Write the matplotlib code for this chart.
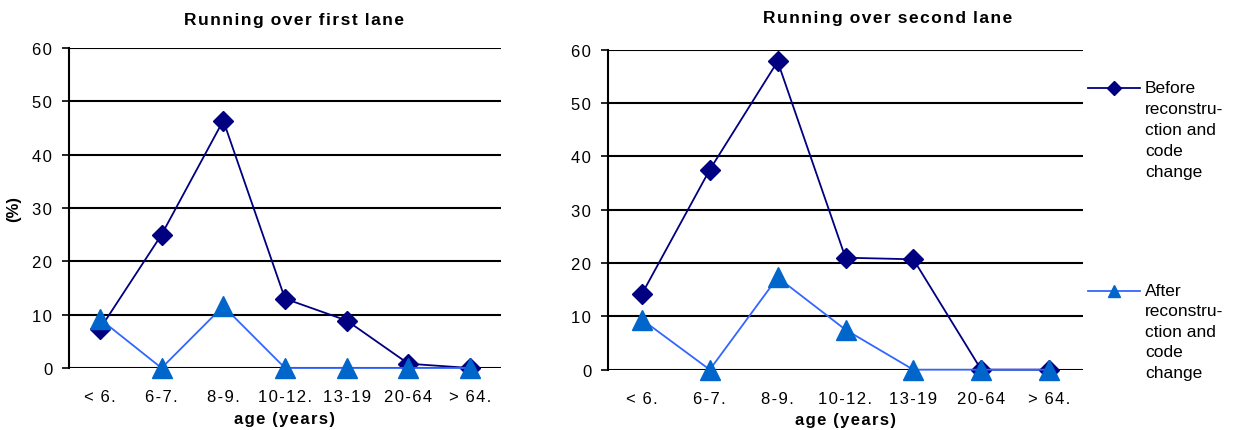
import matplotlib
matplotlib.use("Agg")
import matplotlib.pyplot as plt
from matplotlib.lines import Line2D

plt.rcParams['font.family'] = ['Liberation Sans', 'DejaVu Sans']

ages = ["< 6.", "6-7.", "8-9.", "10-12.", "13-19", "20-64", "> 64."]

# first lane, %
lane1_before = [7.3, 25.0, 46.4, 13.0, 8.9, 0.8, 0.0]
lane1_after = [9.2, 0.0, 11.6, 0.0, 0.0, 0.0, 0.0]

# second lane, %
lane2_before = [14.2, 37.5, 57.8, 21.0, 20.7, 0.0, 0.0]
lane2_after = [9.4, 0.0, 17.3, 7.5, 0.0, 0.0, 0.0]

yticks = [0, 10, 20, 30, 40, 50, 60]

legend_before = "Before\nreconstru-\nction and\ncode\nchange"
legend_after = "After\nreconstru-\nction and\ncode\nchange"

col_before = '#000080'
col_after_line = '#3366FF'
col_after_mark = '#0066CC'

W, H = 1249, 431
fig = plt.figure(figsize=(W/100, H/100), dpi=100)
ax1 = fig.add_axes([69/W, (H-369)/H, 432/W, 320/H])
ax2 = fig.add_axes([608/W, (H-370.7)/H, 475/W, 320/H])


def spaced(s):
    # loosen the letters a bit, Excel style
    return "\u200a".join(s).replace("\u200a \u200a", "\u2009\u2009")


def draw(ax, before, after):
    x = list(range(len(ages)))
    ax.plot(x, before, color=col_before, lw=1.3, marker='D', ms=10,
            mfc=col_before, mec=col_before, zorder=3, clip_on=False)
    ax.plot(x, after, color=col_after_line, lw=1.3, marker='^', ms=14,
            mfc=col_after_mark, mec=col_after_mark, zorder=4, clip_on=False)
    ax.set_xlim(-0.5, len(ages) - 0.5)
    ax.set_ylim(0, 60)
    ax.set_yticks(yticks)
    ax.set_yticklabels([spaced(str(t)) for t in yticks])
    ax.set_xticks(x)
    ax.set_xticklabels([spaced(a) for a in ages], fontsize=12)
    ax.tick_params(axis='y', labelsize=12, length=5, width=1.2, color='black', pad=7)
    ax.tick_params(axis='x', length=0, pad=15)
    ax.yaxis.grid(True, color='black', lw=1.5)
    ax.set_axisbelow(True)
    for s in ['top', 'right', 'bottom']:
        ax.spines[s].set_visible(False)
    ax.spines['left'].set_linewidth(1.5)
    ax.set_xlabel(spaced("age (years)"), fontsize=12, fontweight='bold', labelpad=5)


draw(ax1, lane1_before, lane1_after)
draw(ax2, lane2_before, lane2_after)
ax1.set_ylabel("(%)", fontsize=12, fontweight='bold', labelpad=8)

fig.text(294/W, (H-21)/H, spaced("Running over first lane"), fontsize=12.5,
         fontweight='bold', ha='center', va='center')
fig.text(888/W, (H-19)/H, spaced("Running over second lane"), fontsize=12.5,
         fontweight='bold', ha='center', va='center')

# legend drawn on the figure, to the right of the second panel
fig.add_artist(Line2D([1088/W, 1140/W], [(H-88.7)/H]*2, color=col_before, lw=1.3,
                      transform=fig.transFigure))
fig.add_artist(Line2D([1114/W], [(H-88.7)/H], color=col_before, marker='D', ms=7,
                      transform=fig.transFigure))
fig.add_artist(Line2D([1088/W, 1140/W], [(H-291.7)/H]*2, color=col_after_line, lw=1.3,
                      transform=fig.transFigure))
fig.add_artist(Line2D([1114/W], [(H-291.7)/H], color=col_after_mark, marker='^', ms=9,
                      transform=fig.transFigure))
fig.text(1145/W, (H-81)/H, legend_before, fontsize=12.5, va='top', ha='left',
         linespacing=1.5)
fig.text(1145/W, (H-284)/H, legend_after, fontsize=12.5, va='top', ha='left',
         linespacing=1.45)

fig.savefig("out.png", dpi=100)
